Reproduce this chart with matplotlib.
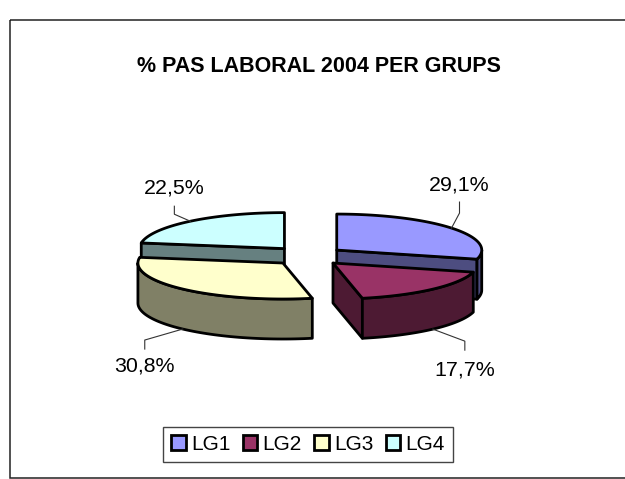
import numpy as np
import matplotlib.pyplot as plt
from matplotlib.patches import Patch, Polygon, Rectangle

plt.rcParams['font.family'] = ['Liberation Sans', 'DejaVu Sans']

title = '% PAS LABORAL 2004 PER GRUPS'
grups = ['LG1', 'LG2', 'LG3', 'LG4']
valors = [29.1, 17.7, 30.8, 22.5]
etiquetes = ['29,1%', '17,7%', '30,8%', '22,5%']

colors = ['#9999FF', '#993366', '#FFFFCC', '#CCFFFF']
ombres = ['#4D4D80', '#4D1A33', '#808066', '#668080']

# pie geometry, in pixels
cx, cy = 308, 256
a, b = 145, 36
fons = 40
expl_x, expl_y = 36.3, 9.7
# leader elbow and label offset from the rim, per slice
colze = [(8, -15), (32, 12), (-38, 11), (-16, -7)]
tram = [-11, 9, 9, -8]
text_dy = [-17, 20, 17, -18]

fig = plt.figure(figsize=(6.25, 4.79), dpi=100)
ax = fig.add_axes([0, 0, 1, 1])
ax.set_xlim(0, 625)
ax.set_ylim(479, 0)
ax.axis('off')

ax.add_patch(Rectangle((9.5, 19.5), 640, 458, fill=False, ec='#222222', lw=1.1))


def punt(c, ang, prof=0):
    # angle clockwise from 12 o'clock, in degrees
    r = np.radians(ang)
    return np.column_stack([c[0] + a * np.sin(r), c[1] - b * np.cos(r) + prof])


acum = np.cumsum([0] + valors)
angles = acum / acum[-1] * 360
centres = []
for i in range(4):
    mig = np.radians((angles[i] + angles[i + 1]) / 2)
    centres.append((cx + expl_x * np.sin(mig), cy - expl_y * np.cos(mig)))

# back slices first
for i in [3, 0, 2, 1]:
    ini, fi = angles[i], angles[i + 1]
    c = centres[i]
    estil = dict(ec='black', lw=2, joinstyle='round')
    if 180 < ini < 360:
        p = punt(c, np.array([ini]))[0]
        ax.add_patch(Polygon([c, p, (p[0], p[1] + fons), (c[0], c[1] + fons)], fc=ombres[i], **estil))
    if 0 < fi < 180:
        p = punt(c, np.array([fi]))[0]
        ax.add_patch(Polygon([c, p, (p[0], p[1] + fons), (c[0], c[1] + fons)], fc=ombres[i], **estil))
    v0, v1 = max(ini, 90), min(fi, 270)
    if v1 > v0:
        arc = np.linspace(v0, v1, 60)
        ax.add_patch(Polygon(np.vstack([punt(c, arc), punt(c, arc[::-1], fons)]), fc=ombres[i], **estil))
    arc = np.linspace(ini, fi, 120)
    ax.add_patch(Polygon(np.vstack([[c], punt(c, arc)]), fc=colors[i], **estil))

# leaders and value labels
for i in range(4):
    mig = (angles[i] + angles[i + 1]) / 2
    prof = fons if 90 < mig < 270 else 0
    p = punt(centres[i], np.array([mig]), prof)[0]
    ex, ey = p[0] + colze[i][0], p[1] + colze[i][1]
    ax.plot([p[0], ex, ex], [p[1], ey, ey + tram[i]], color='#333333', lw=0.8)
    ax.text(ex, ey + tram[i] + text_dy[i], etiquetes[i], fontsize=15.4, color='black', ha='center', va='center')

ax.text(318.5, 66, title, fontsize=15.5, fontweight='bold', ha='center', va='center')

mans = [Patch(fc=colors[i], ec='black', lw=2, label=grups[i]) for i in range(4)]
ax.legend(handles=mans, ncol=4, loc='center', bbox_to_anchor=(308 / 625, 1 - 444.5 / 479),
          prop={'size': 15}, fancybox=False, framealpha=1, edgecolor='#444444',
          handlelength=0.7, handleheight=0.7, handletextpad=0.25, columnspacing=0.6,
          borderpad=0.38, borderaxespad=0)

fig.savefig('out.png', dpi=100)
